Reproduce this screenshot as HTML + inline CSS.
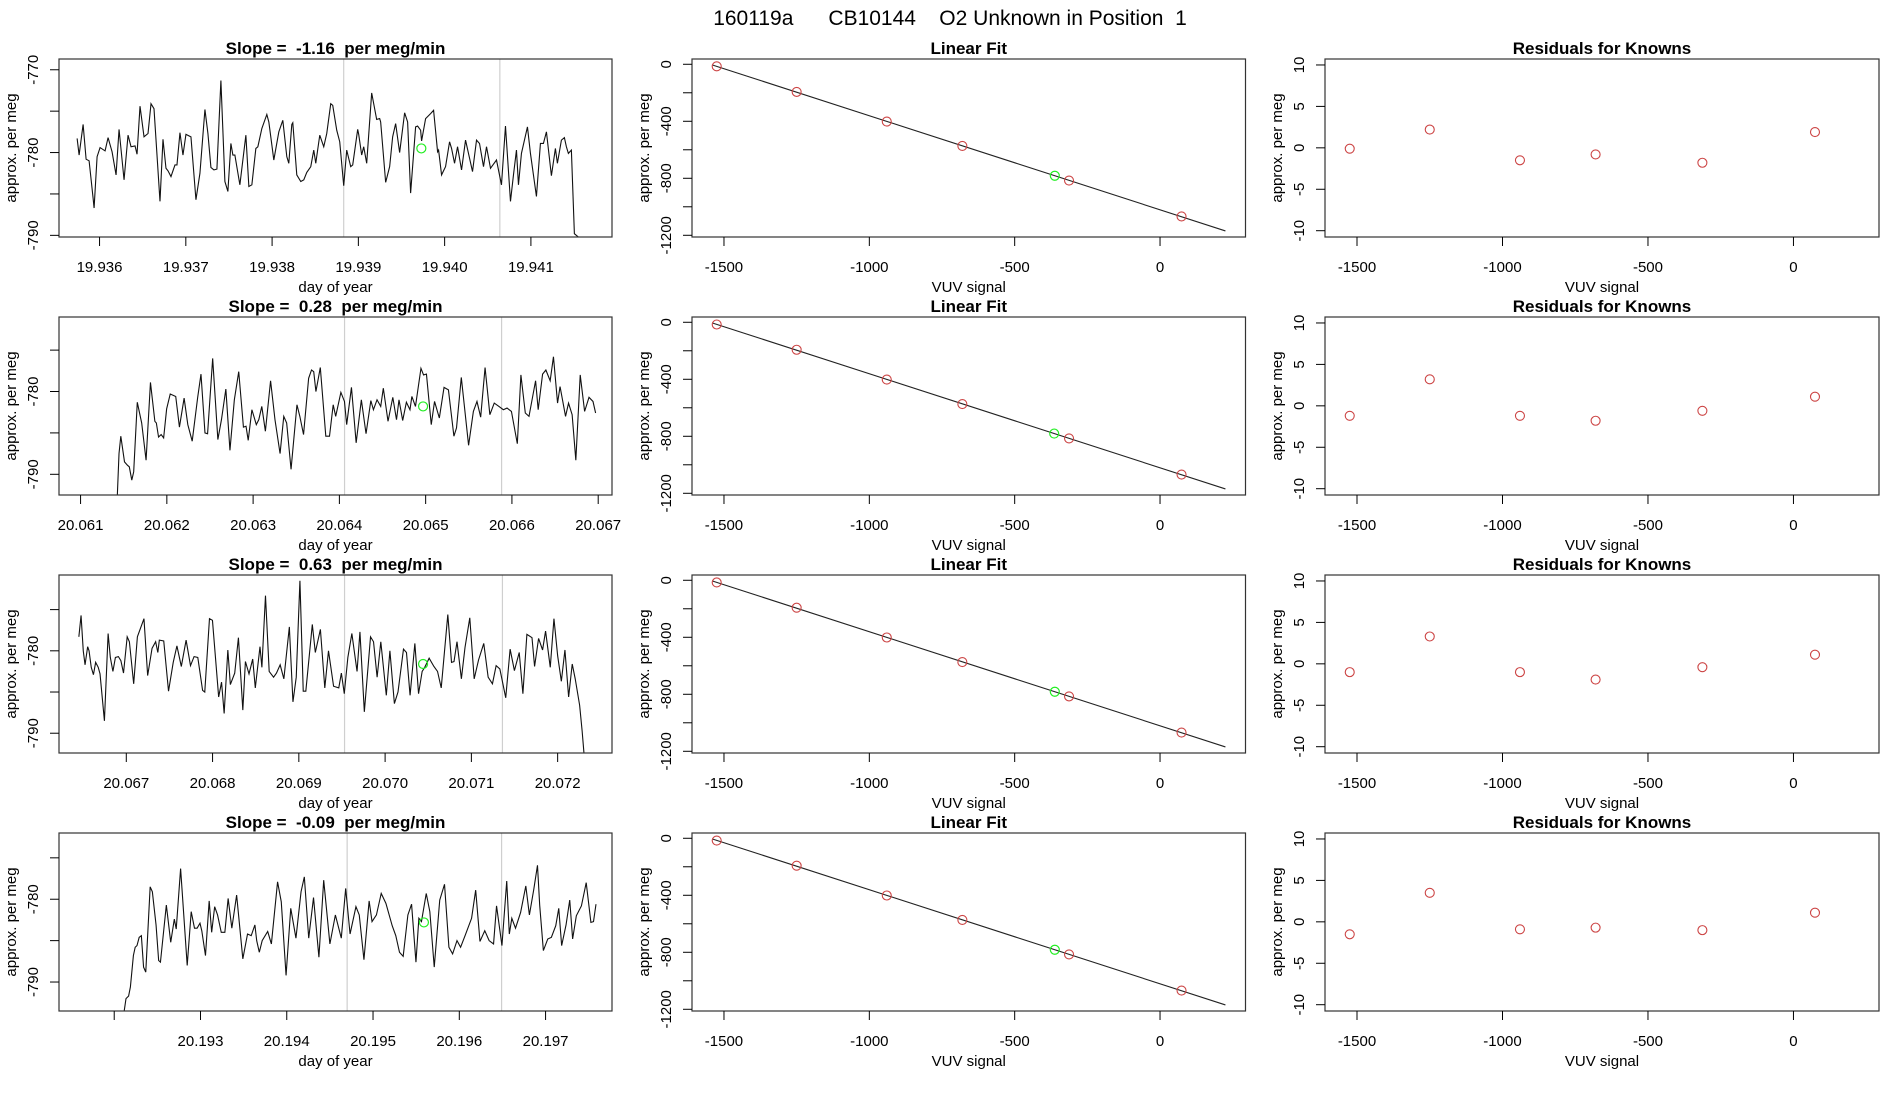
<!DOCTYPE html>
<html><head><meta charset="utf-8">
<style>
html,body{margin:0;padding:0;background:#fff;}
svg{display:block;font-family:"Liberation Sans",sans-serif;}
text{white-space:pre;}
</style></head>
<body>
<svg id="fig" width="1900" height="1100" viewBox="0 0 1900 1100" xmlns="http://www.w3.org/2000/svg">
<rect width="1900" height="1100" fill="#fff"/>
<text x="950" y="25" text-anchor="middle" font-size="21" fill="#000">160119a      CB10144    O2 Unknown in Position  1</text>
</svg>
<script>
// ---------- data ----------
const slopeLabels = ["-1.16","0.28","0.63","-0.09"];
const tsStartDay = [19.93574, 20.061, 20.066, 20.191];
const tsXLim = [[19.93553,19.94194],[20.06075,20.06716],[20.06622,20.07263],[20.19136,20.19777]];
const tsYLim = [[-790.2,-768.7],[-792.5,-771.0],[-792.4,-770.8],[-793.5,-772.0]];
const tsXTicks = [[19.936,19.937,19.938,19.939,19.940,19.941],[20.061,20.062,20.063,20.064,20.065,20.066,20.067],[20.067,20.068,20.069,20.070,20.071,20.072],[20.192,20.193,20.194,20.195,20.196,20.197]];
const tsXTickLabels = [["19.936","19.937","19.938","19.939","19.940","19.941"],["20.061","20.062","20.063","20.064","20.065","20.066","20.067"],["20.067","20.068","20.069","20.070","20.071","20.072"],["","20.193","20.194","20.195","20.196","20.197"]];
const tsYTicks = [[-770,-775,-780,-785,-790],[-775,-780,-785,-790],[-775,-780,-785,-790],[-775,-780,-785,-790]];
const tsYTickLabels = [["-770","","-780","","-790"],["","-780","","-790"],["","-780","","-790"],["","-780","","-790"]];
const grayLineDays = [[19.93883,19.94064],[20.06406,20.06588],[20.06953,20.07136],[20.19470,20.19649]];
const unknownDay = [19.93973, 20.06497, 20.07044, 20.19559];
const unknownValue = [-779.5, -781.8, -781.6, -782.8];

// seconds since tsStartDay, and values (per meg)
const ts1Sec = [0,2,6,9,12,16,17,20,23,28,31,35,39,42,47,51,54,58,60,63,67,71,74,77,83,86,89,91,94,98,100,103,106,109,114,119,123,128,131,134,137,140,144,148,151,154,156,158,163,169,172,175,179,181,185,190,192,197,202,206,210,212,215,216,220,224,227,230,234,237,239,243,247,250,254,256,260,263,267,270,274,276,281,282,285,287,290,295,300,303,304,309,313,316,319,323,328,331,334,339,341,344,345,349,354,357,361,362,365,369,373,375,378,381,385,389,396,400,403,407,410,414,420,425,429,434,437,440,442,445,451,454,460,464,467,470,475,479,481,485,488,490,492,495,498,502];
const ts1Val = [-778.3,-780.3,-776.6,-780.8,-781.0,-785.5,-786.7,-780.5,-779.4,-779.8,-778.2,-779.9,-782.7,-777.2,-783.3,-777.9,-779.3,-779.2,-780.2,-774.4,-778.1,-777.7,-774.1,-774.7,-785.9,-778.4,-781.9,-782.2,-782.9,-781.5,-781.5,-777.6,-780.3,-777.8,-778.1,-785.7,-782.5,-774.8,-777.7,-781.8,-782.1,-782.0,-771.3,-783.5,-784.7,-778.9,-780.3,-780.3,-783.9,-777.9,-784.1,-783.9,-779.5,-779.3,-777.1,-775.4,-776.3,-780.9,-777.5,-776.1,-780.5,-781.3,-776.6,-776.4,-782.7,-783.5,-783.3,-782.4,-781.7,-779.7,-781.3,-777.9,-779.3,-777.7,-774.1,-774.3,-777.3,-778.7,-784.0,-779.7,-781.7,-781.5,-777.2,-777.8,-780.3,-779.3,-781.3,-772.8,-776.0,-775.9,-776.3,-783.6,-781.7,-778.1,-776.5,-780.0,-775.2,-776.3,-784.9,-776.9,-776.8,-777.3,-778.6,-775.9,-775.3,-774.9,-779.9,-779.7,-782.7,-781.7,-778.7,-779.5,-781.3,-779.3,-782.1,-778.5,-782.3,-778.5,-778.9,-781.7,-779.3,-781.9,-780.9,-783.9,-776.8,-785.9,-782.7,-779.7,-783.9,-780.1,-776.9,-780.1,-785.3,-778.9,-778.9,-777.5,-782.8,-779.5,-781.3,-778.5,-778.2,-779.3,-780.1,-779.7,-789.8,-790.2];

const ts2Sec = [36,38.5,40.3,44.0,46.9,48.8,51.3,53.2,56.8,61.2,65.6,70.0,74.4,75.9,78.1,80.7,83.2,86.2,89.8,95.3,99.0,103.7,107.4,111.8,117.3,120.6,124.6,127.2,132.3,137.5,141.1,145.5,149.6,154.0,158.4,163.1,165.7,167.9,171.6,176.0,178.5,181.5,185.1,190.3,194.7,199.8,203.5,206.4,210.8,216.7,219.6,223.3,228.4,231.3,233.5,235.7,240.1,245.6,249.3,253.0,255.5,260.7,264.3,266.5,271.3,276.0,281.2,285.9,290.7,293.3,296.9,300.6,303.2,307.9,312.7,316.4,318.9,322.6,326.3,329.9,331.8,335.4,340.9,343.5,346.4,351.2,354.5,359.3,364.0,368.4,373.9,376.5,381.3,388.6,393.4,397.0,400.7,405.1,409.9,414.3,419.0,423.4,427.1,431.5,437.4,441.0,445.4,449.1,455.7,458.3,462.7,466.0,470.3,473.6,477.7,480.2,485.7,488.7,492.3,496.0,500.4,504.8,509.2,513.2,515.8];
const ts2Val = [-795,-787.5,-785.4,-788.5,-788.9,-789.1,-790.7,-789.7,-781.3,-783.8,-788.3,-778.9,-783.6,-783.8,-785.5,-785.2,-785.6,-782.1,-780.3,-780.6,-784.3,-780.8,-784.0,-786.0,-780.7,-777.9,-785.0,-785.1,-776.0,-785.8,-783.4,-779.7,-787.1,-781.0,-777.6,-784.3,-784.2,-785.9,-782.2,-784.0,-783.4,-781.8,-784.8,-778.7,-783.4,-787.5,-783.0,-783.8,-789.4,-781.6,-783.0,-785.2,-778.4,-777.4,-777.6,-780.0,-777.1,-785.4,-785.4,-781.6,-783.0,-780.1,-781.2,-784.0,-779.5,-786.2,-781.0,-785.1,-781.1,-782.2,-781.0,-781.8,-779.6,-783.6,-780.7,-783.4,-781.0,-783.5,-781.3,-782.2,-780.6,-781.8,-777.2,-778.0,-777.9,-784.0,-781.2,-783.2,-779.5,-779.8,-785.4,-784.4,-778.3,-786.5,-782.4,-781.2,-783.1,-777.1,-782.8,-781.4,-781.8,-782.2,-782.0,-782.4,-786.3,-778.0,-782.6,-783.0,-778.7,-782.2,-777.9,-777.4,-778.7,-775.8,-781.4,-779.4,-783.0,-781.4,-782.8,-788.3,-778.0,-782.4,-780.7,-781.2,-782.6];

const ts3Sec = [38.9,41.1,43.3,45.1,47.7,49.1,51.3,53.5,55.7,58.3,60.1,64.5,68.2,70.4,73.0,75.5,78.5,81.0,83.6,87.3,89.5,93.8,97.5,104.1,107.8,112.2,115.8,118.0,119.5,123.9,128.7,133.4,137.1,141.5,146.3,150.7,154.3,158.0,162.8,165.0,169.7,172.7,178.9,181.8,184.4,188.1,190.6,195.0,198.7,203.1,205.7,209.3,213.0,215.6,220.3,222.2,225.8,229.5,233.9,236.8,240.5,244.2,249.7,253.3,256.6,260.3,263.6,266.2,272.7,275.7,280.8,285.2,288.9,294.0,299.2,301.8,304.7,308.3,312.3,317.5,320.4,324.8,331.0,334.0,337.6,341.3,346.8,350.4,354.9,358.5,364.0,367.0,370.6,375.4,379.1,382.7,385.3,389.7,394.5,398.1,401.8,408.4,412.1,414.6,417.6,422.0,425.6,430.4,434.8,439.2,444.4,448.8,453.1,456.8,460.5,466.4,470.8,475.1,479.9,483.6,487.6,492.7,495.3,499.3,503.3,506.3,511.0,514.7,518.4,522.1,525.7,529.4,533.0,536.0,540.4,542.9,545.5];
const ts3Val = [-778.3,-775.7,-780.0,-781.7,-779.5,-780.0,-782.0,-782.9,-781.4,-782.0,-782.8,-788.5,-777.9,-780.8,-782.5,-780.8,-780.7,-781.2,-782.7,-778.3,-778.9,-784.0,-778.3,-776.1,-783.0,-779.7,-778.9,-780.2,-778.7,-778.8,-784.9,-781.4,-779.4,-781.9,-778.7,-781.8,-780.7,-780.8,-784.8,-785.0,-776.1,-776.3,-785.6,-783.8,-787.6,-779.9,-784.1,-782.7,-778.4,-787.2,-781.3,-782.8,-781.0,-784.5,-779.5,-782.0,-773.3,-782.5,-783.2,-782.7,-781.7,-783.4,-777.1,-786.2,-783.2,-771.5,-784.9,-784.9,-776.8,-780.2,-777.4,-784.5,-780.0,-784.3,-784.5,-782.7,-785.2,-780.8,-777.9,-782.5,-777.7,-787.4,-778.3,-778.9,-783.2,-778.9,-785.4,-780.0,-786.4,-785.0,-779.8,-780.2,-785.4,-779.1,-785.2,-782.5,-782.0,-780.9,-781.9,-782.5,-784.5,-775.6,-781.4,-781.3,-778.9,-783.4,-779.6,-776.0,-783.4,-781.1,-779.1,-783.2,-784.0,-781.8,-782.2,-785.7,-779.8,-782.4,-780.2,-785.2,-778.0,-778.4,-781.9,-778.5,-779.9,-777.6,-782.0,-776.1,-780.6,-783.7,-779.9,-785.6,-781.6,-783.4,-786.6,-789.7,-793.5];

const ts4Sec = [96.4,98.2,100.8,102.6,105.6,107.4,109.2,111.4,113.6,115.8,118.0,122.4,124.6,128.3,130.9,132.7,138.6,143.0,146.6,148.5,152.9,159.5,163.5,166.8,169.4,172.3,174.1,177.8,181.5,184.0,187.0,189.9,193.6,197.2,200.5,204.2,209.0,215.2,219.9,223.6,227.3,229.1,231.7,234.6,240.1,243.8,250.0,253.7,258.5,263.2,268.4,273.5,276.8,281.2,286.0,291.4,296.2,302.4,307.9,313.8,318.2,322.6,328.5,331.8,336.5,341.7,344.6,349.0,353.8,358.5,364.8,368.4,372.1,375.8,380.5,384.2,388.6,391.5,394.1,398.9,402.5,406.9,412.4,417.2,421.6,425.3,429.7,433.3,438.1,444.3,448.4,452.7,457.5,461.9,466.3,469.3,474.7,479.5,482.1,484.6,488.3,493.4,498.6,502.2,506.6,510.3,512.5,516.2,520.6,524.2,528.6,531.6,534.5,538.9,542.6,545.5,549.2,554.3,559.1,563.8,566.4,568.9];
const ts4Val = [-793.5,-792.0,-791.7,-790.6,-786.8,-785.8,-785.6,-784.6,-784.4,-788.2,-788.8,-778.5,-779.1,-783.1,-787.4,-787.6,-780.7,-785.2,-782.4,-783.6,-776.3,-788.0,-781.5,-783.5,-783.5,-782.9,-783.8,-786.8,-780.2,-784.0,-780.9,-781.9,-784.0,-784.0,-779.9,-783.5,-779.5,-787.2,-784.2,-784.4,-783.1,-785.0,-786.4,-785.0,-783.9,-785.4,-777.9,-780.3,-789.2,-781.1,-784.7,-779.1,-777.3,-784.7,-779.8,-787.0,-777.7,-785.4,-781.9,-784.7,-778.7,-784.2,-780.9,-781.9,-787.3,-780.2,-782.7,-781.9,-779.3,-780.5,-783.2,-784.4,-786.4,-786.9,-781.9,-780.6,-787.6,-782.3,-782.7,-779.3,-781.5,-788.2,-780.1,-778.2,-785.8,-786.6,-785.0,-785.8,-784.3,-782.3,-778.9,-785.1,-783.8,-785.0,-785.4,-780.8,-785.6,-777.8,-784.2,-782.3,-783.5,-781.6,-778.4,-781.9,-778.8,-775.9,-780.7,-786.2,-784.8,-784.6,-783.2,-781.1,-785.6,-783.1,-780.1,-784.8,-782.0,-780.8,-778.0,-782.8,-782.7,-780.6];

// linear fit panel
const fitXLim = [-1610, 294];
const fitYLim = [-1212, 37];
const fitXTicks = [-1500,-1000,-500,0];
const fitYTicks = [0,-200,-400,-600,-800,-1000,-1200];
const fitYTickLabels = ["0","","-400","","-800","","-1200"];
const knownX = [-1525,-1250,-940,-680,-313,74];
const knownY1 = [-14.6,-193.8,-402.1,-573.0,-816.2,-1067.9];
const knownY2 = [-15.7,-192.8,-401.8,-574.0,-815.0,-1068.7];
const knownY3 = [-15.5,-192.7,-401.6,-574.1,-814.8,-1068.7];
const knownY4 = [-16.0,-192.5,-401.5,-572.9,-815.4,-1068.7];
const fitLineX = [-1541, 225];
const fitLineY = [-4, -1169.5];
const unknownVUV = [-362, -364, -362, -362];
const unknownFitY = [-782, -781, -782, -782];

// residual panel
const resXLim = [-1610, 294];
const resYLim = [-10.76, 10.72];
const resYTicks = [-10,-5,0,5,10];
const resid1 = [-0.1, 2.2, -1.5, -0.8, -1.8, 1.9];
const resid2 = [-1.2, 3.2, -1.2, -1.8, -0.6, 1.1];
const resid3 = [-1.0, 3.3, -1.0, -1.9, -0.4, 1.1];
const resid4 = [-1.5, 3.5, -0.9, -0.7, -1.0, 1.1];

// ---------- drawing ----------
const tsSec = [ts1Sec, ts2Sec, ts3Sec, ts4Sec];
const tsVal = [ts1Val, ts2Val, ts3Val, ts4Val];
const knownYs = [knownY1, knownY2, knownY3, knownY4];
const resids = [resid1, resid2, resid3, resid4];

const NS = "http://www.w3.org/2000/svg";
const svg = document.getElementById("fig");
const COLS = [[59,612],[692,1245.5],[1325,1879]];
const ROW_TOP = 59, ROW_STEP = 258, ROW_H = 178;

function mk(tag, attrs, parent) {
  const e = document.createElementNS(NS, tag);
  for (const k in attrs) e.setAttribute(k, attrs[k]);
  (parent || svg).appendChild(e);
  return e;
}
function scale(d0, d1, r0, r1) { return v => r0 + (v - d0) * (r1 - r0) / (d1 - d0); }

function axes(g, L, R, T, B, xs, ys, xTicks, xLabels, yTicks, yLabels, xTitle, title, pname) {
  // x axis
  const xa = mk("g", {}, g);
  
  
  xTicks.forEach((t, i) => {
    const x = xs(t);
    mk("line", {x1:x, x2:x, y1:B, y2:B+9, stroke:"#000", "stroke-width":1}, xa);
    if (xLabels[i] !== "") {
      const tx = mk("text", {x:x, y:B+35, "text-anchor":"middle", "font-size":15, fill:"#000"}, xa);
      tx.textContent = xLabels[i];
    }
  });
  const ya = mk("g", {}, g);
  
  
  yTicks.forEach((t, i) => {
    const y = ys(t);
    mk("line", {x1:L-9, x2:L, y1:y, y2:y, stroke:"#000", "stroke-width":1}, ya);
    if (yLabels[i] !== "") {
      const tx = mk("text", {x:L-21, y:y, "text-anchor":"middle", "font-size":15, fill:"#000",
        transform:`rotate(-90 ${L-21} ${y})`}, ya);
      tx.textContent = yLabels[i];
    }
  });
  const xt = mk("text", {x:(L+R)/2, y:B+55, "text-anchor":"middle", "font-size":15, fill:"#000"}, g);
  
  
  xt.textContent = xTitle;
  const cy = (T+B)/2;
  const yt = mk("text", {x:L-43, y:cy, "text-anchor":"middle", "font-size":15, fill:"#000",
    transform:`rotate(-90 ${L-43} ${cy})`}, g);
  
  
  yt.textContent = "approx. per meg";
  const tt = mk("text", {x:(L+R)/2, y:T-5, "text-anchor":"middle", "font-size":17, "font-weight":"bold", fill:"#000"}, g);
  
  
  tt.textContent = title;
}
function box(g, L, R, T, B, pname) {
  const r = mk("rect", {x:L, y:T, width:R-L, height:B-T, fill:"none", stroke:"#333", "stroke-width":1.2}, g);
  
  
}

for (let r = 0; r < 4; r++) {
  const T = ROW_TOP + r*ROW_STEP, B = T + ROW_H;

  // ---- time series ----
  {
    const [L, R] = COLS[0];
    const pname = 'timeseries-row' + (r+1);
    const g = mk("g", {});
    
    
    const xs = scale(tsXLim[r][0], tsXLim[r][1], L, R);
    const ys = scale(tsYLim[r][0], tsYLim[r][1], B, T);
    const clip = mk("clipPath", {id:"clip"+r}, g);
    mk("rect", {x:L, y:T, width:R-L, height:B-T}, clip);
    grayLineDays[r].forEach(d => {
      const gl = mk("line", {x1:xs(d), x2:xs(d), y1:T, y2:B, stroke:"#cfcfcf", "stroke-width":1.2}, g);
      
      
    });
    const pts = tsSec[r].map((s, i) => xs(tsStartDay[r] + s/86400).toFixed(2) + "," + ys(tsVal[r][i]).toFixed(2)).join(" ");
    const pl = mk("polyline", {points:pts, fill:"none", stroke:"#111", "stroke-width":1.1, "clip-path":`url(#clip${r})`}, g);
    
    
    const uc = mk("circle", {cx:xs(unknownDay[r]), cy:ys(unknownValue[r]), r:4.5, fill:"none", stroke:"#22ee22", "stroke-width":1.2}, g);
    
    
    box(g, L, R, T, B, pname);
    axes(g, L, R, T, B, xs, ys, tsXTicks[r], tsXTickLabels[r], tsYTicks[r], tsYTickLabels[r],
      "day of year", "Slope =  " + slopeLabels[r] + "  per meg/min", pname);
  }

  // ---- linear fit ----
  {
    const [L, R] = COLS[1];
    const pname = 'linear-fit-row' + (r+1);
    const g = mk("g", {});
    
    
    const xs = scale(fitXLim[0], fitXLim[1], L, R);
    const ys = scale(fitYLim[0], fitYLim[1], B, T);
    const fl = mk("line", {x1:xs(fitLineX[0]), y1:ys(fitLineY[0]), x2:xs(fitLineX[1]), y2:ys(fitLineY[1]), stroke:"#222", "stroke-width":1.1}, g);
    
    
    knownX.forEach((x, i) => {
      const c = mk("circle", {cx:xs(x), cy:ys(knownYs[r][i]), r:4.5, fill:"none", stroke:"#cc4444", "stroke-width":1.1}, g);
      
      
    });
    const uc = mk("circle", {cx:xs(unknownVUV[r]), cy:ys(unknownFitY[r]), r:4.5, fill:"none", stroke:"#22ee22", "stroke-width":1.2}, g);
    
    
    box(g, L, R, T, B, pname);
    axes(g, L, R, T, B, xs, ys, fitXTicks, fitXTicks.map(String), fitYTicks, fitYTickLabels,
      "VUV signal", "Linear Fit", pname);
  }

  // ---- residuals ----
  {
    const [L, R] = COLS[2];
    const pname = 'residuals-row' + (r+1);
    const g = mk("g", {});
    
    
    const xs = scale(resXLim[0], resXLim[1], L, R);
    const ys = scale(resYLim[0], resYLim[1], B, T);
    knownX.forEach((x, i) => {
      const c = mk("circle", {cx:xs(x), cy:ys(resids[r][i]), r:4.5, fill:"none", stroke:"#cc4444", "stroke-width":1.1}, g);
      
      
    });
    box(g, L, R, T, B, pname);
    axes(g, L, R, T, B, xs, ys, fitXTicks, fitXTicks.map(String), resYTicks, resYTicks.map(String),
      "VUV signal", "Residuals for Knowns", pname);
  }
}
</script>
</body></html>
